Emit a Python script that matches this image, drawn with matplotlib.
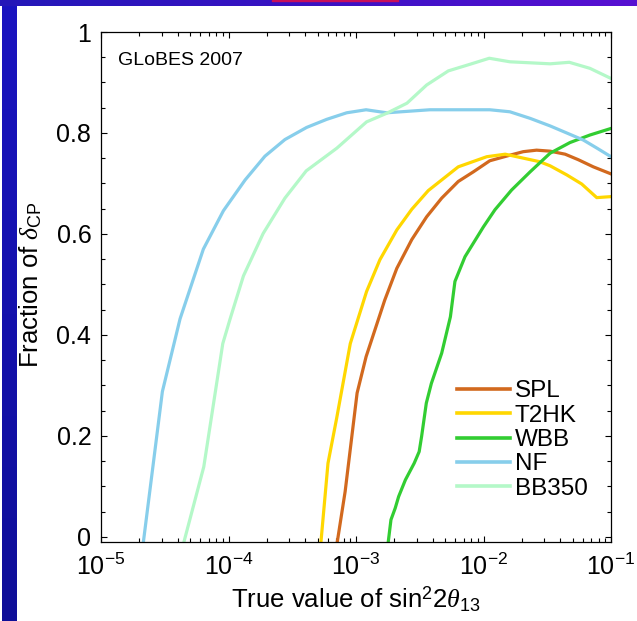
import numpy as np
import matplotlib
matplotlib.use("Agg")
import matplotlib.pyplot as plt
from matplotlib.ticker import FixedLocator, LogLocator, NullFormatter
from matplotlib.colors import LinearSegmentedColormap

plt.rcParams['font.family'] = ['Liberation Sans', 'DejaVu Sans']
plt.rcParams['mathtext.fontset'] = 'custom'
plt.rcParams['mathtext.rm'] = 'Liberation Sans'
plt.rcParams['mathtext.it'] = 'Liberation Serif:italic'
plt.rcParams['mathtext.bf'] = 'Liberation Sans:bold'

# ---------------- data ----------------
series_names = ["SPL", "T2HK", "WBB", "NF", "BB350"]
series_colors = ["#D2691E", "#FFD700", "#32CD32", "#87CEEB", "#B4F8C8"]

spl_x = [7.13e-4, 8.22e-4, 1.02e-3, 1.20e-3, 1.68e-3, 2.09e-3, 2.74e-3, 3.58e-3,
         4.70e-3, 6.34e-3, 8.32e-3, 1.12e-2, 1.61e-2, 2.05e-2, 2.61e-2, 3.33e-2,
         4.37e-2, 5.55e-2, 7.26e-2, 0.1]
spl_y = [-0.01, 0.090, 0.285, 0.357, 0.469, 0.532, 0.589, 0.634,
         0.671, 0.704, 0.723, 0.745, 0.756, 0.763, 0.766, 0.764,
         0.758, 0.747, 0.733, 0.719]

t2hk_x = [5.31e-4, 6.03e-4, 7.05e-4, 9.02e-4, 1.21e-3, 1.54e-3, 2.09e-3, 2.74e-3,
          3.69e-3, 6.34e-3, 1.06e-2, 1.48e-2, 2.77e-2, 3.33e-2, 4.50e-2, 5.89e-2,
          7.73e-2, 0.1]
t2hk_y = [-0.01, 0.146, 0.235, 0.383, 0.486, 0.549, 0.608, 0.649,
          0.686, 0.733, 0.753, 0.758, 0.743, 0.735, 0.717, 0.699,
          0.672, 0.674]

wbb_x = [1.79e-3, 1.88e-3, 2.03e-3, 2.16e-3, 2.44e-3, 2.86e-3, 3.13e-3, 3.27e-3,
         3.56e-3, 3.90e-3, 4.70e-3, 5.50e-3, 5.97e-3, 7.16e-3, 9.98e-3, 1.23e-2,
         1.66e-2, 2.32e-2, 3.33e-2, 4.76e-2, 6.84e-2, 0.1]
wbb_y = [-0.01, 0.034, 0.057, 0.080, 0.113, 0.146, 0.169, 0.199,
         0.265, 0.304, 0.364, 0.436, 0.506, 0.555, 0.614, 0.648,
         0.687, 0.723, 0.760, 0.781, 0.796, 0.809]

nf_x = [2.15e-5, 3.03e-5, 4.17e-5, 6.35e-5, 9.12e-5, 1.35e-4, 1.93e-4, 2.77e-4,
        4.10e-4, 5.89e-4, 8.45e-4, 1.20e-3, 1.74e-3, 3.80e-3, 1.12e-2, 1.61e-2,
        2.32e-2, 3.33e-2, 4.50e-2, 6.07e-2, 7.76e-2, 0.1]
nf_y = [-0.01, 0.288, 0.432, 0.570, 0.646, 0.707, 0.754, 0.787,
        0.811, 0.827, 0.840, 0.846, 0.840, 0.846, 0.846, 0.842,
        0.829, 0.814, 0.800, 0.786, 0.770, 0.753]

bb350_x = [4.47e-5, 6.40e-5, 9.02e-5, 1.03e-4, 1.31e-4, 1.87e-4, 2.77e-4, 4.07e-4,
           7.08e-4, 1.21e-3, 1.74e-3, 2.51e-3, 3.58e-3, 5.30e-3, 7.59e-3, 1.11e-2,
           1.61e-2, 2.32e-2, 3.33e-2, 4.71e-2, 6.84e-2, 0.1]
bb350_y = [-0.01, 0.139, 0.383, 0.432, 0.517, 0.601, 0.671, 0.725,
           0.770, 0.822, 0.839, 0.859, 0.895, 0.923, 0.935, 0.948,
           0.941, 0.939, 0.937, 0.940, 0.928, 0.908]

ytick_values = [0, 0.2, 0.4, 0.6, 0.8, 1.0]
ytick_labels = ["0", "0.2", "0.4", "0.6", "0.8", "1"]
annotation = "GLoBES 2007"

# ---------------- figure ----------------
W, H = 637, 621
fig = plt.figure(figsize=(W / 100, H / 100), dpi=100)
fig.patch.set_facecolor("white")

# slide decorations (top bar and left strip)
top_ax = fig.add_axes([0, 1 - 6 / H, 1, 6 / H])
top_cmap = LinearSegmentedColormap.from_list("top", ["#2418B8", "#3A12C4", "#5810D2"])
top_ax.imshow(np.linspace(0, 1, 256)[None, :], aspect="auto", cmap=top_cmap,
              extent=[0, W, 0, 6])
top_ax.fill_between([272, 398], 5, 6, color="#C8105A")
top_ax.set_xlim(0, W)
top_ax.set_ylim(0, 6)
top_ax.axis("off")

left_ax = fig.add_axes([2 / W, 0, 15 / W, 1 - 6 / H])
left_cmap = LinearSegmentedColormap.from_list("left", ["#0E0E98", "#1A14C0"])
left_ax.imshow(np.linspace(0, 1, 256)[:, None], aspect="auto", cmap=left_cmap,
               origin="lower")
left_ax.axis("off")

ax = fig.add_axes([101 / W, (H - 542) / H, 510 / W, 510 / H])

xs = [spl_x, t2hk_x, wbb_x, nf_x, bb350_x]
ys = [spl_y, t2hk_y, wbb_y, nf_y, bb350_y]
for name, col, x, y in zip(series_names, series_colors, xs, ys):
    ax.plot(x, y, color=col, lw=2.3, label=name, solid_joinstyle="round")

ax.set_xscale("log")
ax.set_xlim(1e-5, 1e-1)
ax.set_ylim(-0.01, 1.0)

ax.xaxis.set_major_locator(LogLocator(base=10, numticks=10))
ax.xaxis.set_minor_locator(LogLocator(base=10, subs=np.arange(2, 10), numticks=20))
ax.xaxis.set_minor_formatter(NullFormatter())
ax.yaxis.set_major_locator(FixedLocator(ytick_values))
ax.set_yticklabels(ytick_labels)
ax.yaxis.set_minor_locator(FixedLocator(np.arange(0, 1.0001, 0.05)))

ax.tick_params(which="both", direction="in", top=True, right=True, width=0.8)
ax.tick_params(which="major", length=4.5, labelsize=18)
ax.tick_params(which="minor", length=3)
ax.tick_params(axis="y", which="major", pad=7)
ax.tick_params(axis="x", which="major", pad=8)
for sp in ax.spines.values():
    sp.set_linewidth(0.9)

ax.set_xlabel(r"True value of sin$^2$2$\theta_{13}$", fontsize=18.5, labelpad=4)
ax.set_ylabel(r"Fraction of $\delta_{\mathrm{CP}}$", fontsize=18.5)
ax.yaxis.set_label_coords(-0.111, 0.505)

ax.text(17 / 510, (542 - 65) / 510, annotation, transform=ax.transAxes,
        fontsize=14, ha="left", va="baseline")

leg = ax.legend(loc="center left", bbox_to_anchor=((457 - 101) / 510, (542 - 440) / 510),
                frameon=False, fontsize=17.5, handlelength=2.18, handletextpad=0.2,
                labelspacing=0.1, borderpad=0, borderaxespad=0)
for line in leg.get_lines():
    line.set_linewidth(2.6)

fig.savefig("out.png", dpi=100, facecolor="white")
